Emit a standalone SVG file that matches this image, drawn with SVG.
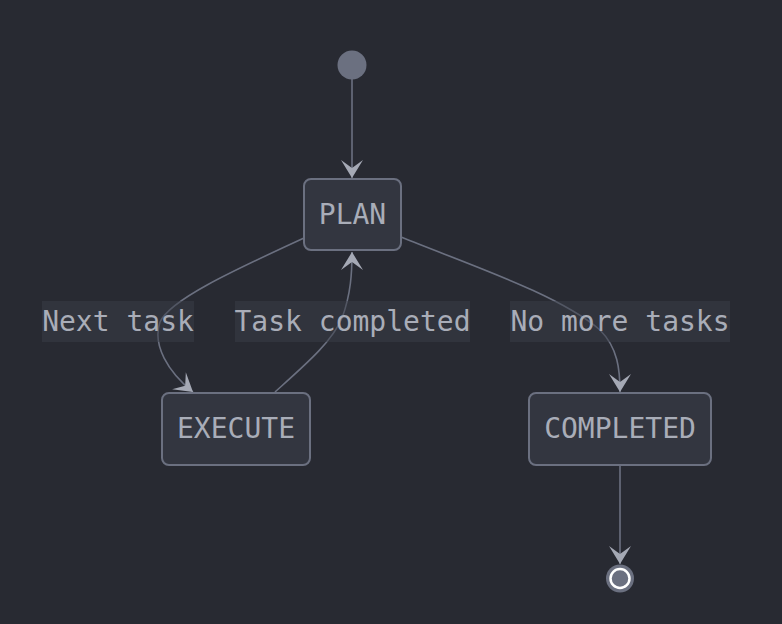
<svg xmlns="http://www.w3.org/2000/svg" width="782" height="624" viewBox="0 0 782 624">
<style>
.bg{fill:#282a32}
.node rect{fill:#333640;stroke:#6b7080;stroke-width:2}
.txt{font-family:"DejaVu Sans Mono",monospace;font-size:28px;fill:#a9adb8;text-anchor:middle}
.edge{fill:none;stroke:#6b7080;stroke-width:1.6}
.lbl{fill:#3a3d48;fill-opacity:0.5}
</style>
<defs>
<marker id="arr" viewBox="-20 -12 22 24" refX="0" refY="0" markerWidth="22" markerHeight="24" markerUnits="userSpaceOnUse" orient="auto">
<path d="M0,0 L-18,-11 L-10,0 L-18,11 Z" fill="#a5a9b5"/>
</marker>
</defs>
<rect class="bg" x="0" y="0" width="782" height="624"/>
<g id="connectors">
<path class="edge" d="M352,79 L352,178" marker-end="url(#arr)"/>
<path class="edge" d="M304,238 C230,272 170,300 160,322 C152,345 168,372 193,392" marker-end="url(#arr)"/>
<path class="edge" d="M275,392 C305,365 332,342 342,318 C351,294 352,272 352,252" marker-end="url(#arr)"/>
<path class="edge" d="M401,237 C470,265 560,295 600,330 C618,348 620,370 620,392" marker-end="url(#arr)"/>
<path class="edge" d="M620,465 L620,564" marker-end="url(#arr)"/>
</g>
<g id="labels">
<g id="label-next"><rect class="lbl" x="42" y="301" width="152" height="41"/><text class="txt" x="118" y="331">Next task</text></g>
<g id="label-completed"><rect class="lbl" x="235" y="301" width="235" height="41"/><text class="txt" x="352.5" y="331">Task completed</text></g>
<g id="label-nomore"><rect class="lbl" x="510" y="301" width="220" height="41"/><text class="txt" x="620" y="331">No more tasks</text></g>
</g>
<g id="start"><circle cx="352" cy="65" r="14.5" fill="#6b7080"/></g>
<g id="plan" class="node"><rect x="304" y="179" width="97" height="71" rx="7"/><text class="txt" x="352.5" y="224">PLAN</text></g>
<g id="execute" class="node"><rect x="162" y="393" width="148" height="72" rx="7"/><text class="txt" x="236" y="438">EXECUTE</text></g>
<g id="completed" class="node"><rect x="529" y="393" width="182" height="72" rx="7"/><text class="txt" x="620" y="438">COMPLETED</text></g>
<g id="end"><circle cx="620" cy="578.5" r="14" fill="#6b7080"/><circle cx="620" cy="578.5" r="9.5" fill="#6b7080" stroke="#ffffff" stroke-width="2.5"/></g>
</svg>
